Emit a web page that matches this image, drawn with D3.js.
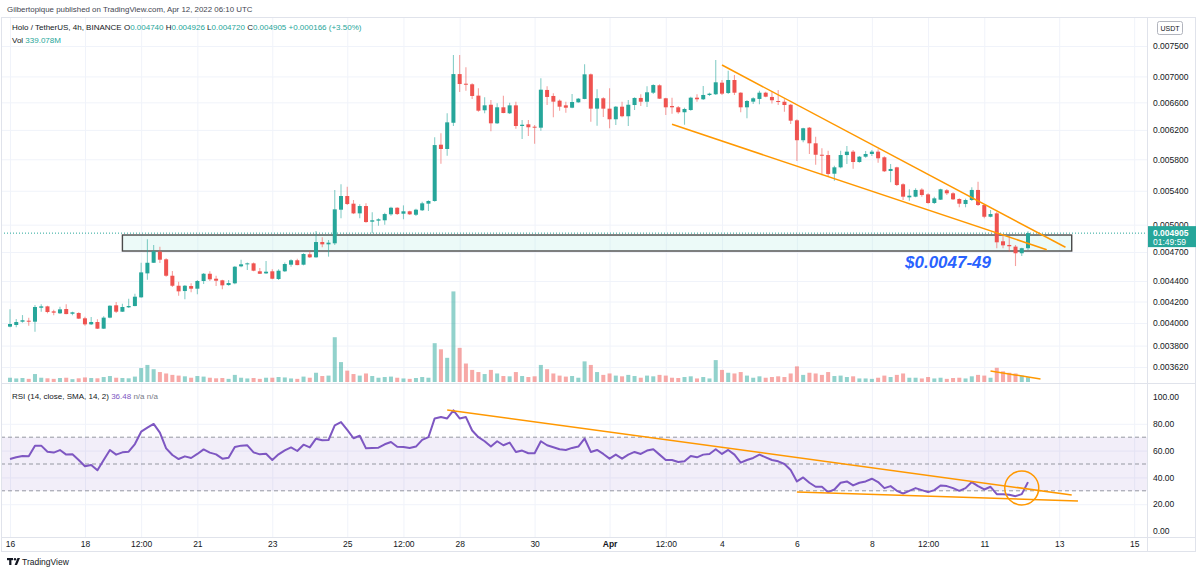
<!DOCTYPE html>
<html>
<head>
<meta charset="utf-8">
<script src="https://cdn.jsdelivr.net/npm/d3@7"></script>
<style>
  body { margin: 0; background: #fff; }
  svg { display: block; }
  text { font-family: "Liberation Sans", Arial, sans-serif; }
</style>
</head>
<body>
<svg id="chart" width="1200" height="574"></svg>
<script>
// HOT/USDT 4h candles, Mar 16 00:00 -> Apr 12 04:00 (UTC)
var opens = [
  0.003967,0.003982,0.004012,0.004021,0.004012,0.004141,0.004154,0.004107,0.004089,0.004129,
  0.004085,0.004092,0.004043,0.003988,0.004009,0.003949,0.004049,0.004164,0.004104,0.004145,
  0.004157,0.004240,0.004477,0.004586,0.004703,0.004622,0.004453,0.004353,0.004301,0.004350,
  0.004324,0.004400,0.004473,0.004423,0.004407,0.004360,0.004377,0.004549,0.004570,0.004580,
  0.004498,0.004477,0.004498,0.004420,0.004498,0.004566,0.004612,0.004566,0.004675,0.004643,
  0.004807,0.004782,0.004793,0.005173,0.005336,0.005244,0.005130,0.005216,0.005034,0.005046,
  0.005050,0.005119,0.005196,0.005126,0.005154,0.005114,0.005166,0.005244,0.005276,0.005995,
  0.005937,0.006301,0.007037,0.006885,0.006876,0.006701,0.006482,0.006564,0.006293,0.006526,
  0.006438,0.006555,0.006255,0.006279,0.006245,0.006231,0.006788,0.006696,0.006625,0.006555,
  0.006520,0.006600,0.006651,0.007033,0.006506,0.006661,0.006506,0.006351,0.006535,0.006395,
  0.006560,0.006666,0.006609,0.006746,0.006860,0.006661,0.006545,0.006526,0.006453,0.006486,
  0.006670,0.006646,0.006711,0.006722,0.006901,0.006741,0.006943,0.006746,0.006526,0.006610,
  0.006651,0.006746,0.006681,0.006620,0.006609,0.006564,0.006336,0.006056,0.006231,0.006014,
  0.005860,0.005856,0.005613,0.005695,0.005856,0.005901,0.005764,0.005834,0.005870,0.005901,
  0.005826,0.005648,0.005695,0.005480,0.005320,0.005328,0.005414,0.005356,0.005252,0.005292,
  0.005406,0.005369,0.005300,0.005240,0.005288,0.005410,0.005228,0.005091,0.005130,0.004815,
  0.004775,0.004757,0.004686,0.004740
];
var highs = [
  0.004126,0.004037,0.004073,0.004049,0.004166,0.004173,0.004160,0.004122,0.004151,0.004173,
  0.004104,0.004098,0.004058,0.004055,0.004034,0.004061,0.004164,0.004195,0.004179,0.004227,
  0.004275,0.004586,0.004837,0.004775,0.004757,0.004633,0.004501,0.004393,0.004360,0.004377,
  0.004410,0.004480,0.004498,0.004453,0.004413,0.004410,0.004552,0.004618,0.004590,0.004590,
  0.004532,0.004604,0.004518,0.004518,0.004590,0.004622,0.004629,0.004686,0.004714,0.004929,
  0.004859,0.004829,0.005410,0.005480,0.005450,0.005288,0.005236,0.005248,0.005142,0.005073,
  0.005137,0.005208,0.005201,0.005224,0.005161,0.005184,0.005268,0.005284,0.006097,0.006152,
  0.006438,0.007349,0.007349,0.007146,0.006891,0.006814,0.006676,0.006636,0.006586,0.006701,
  0.006594,0.006609,0.006341,0.006341,0.006269,0.006970,0.006844,0.006737,0.006641,0.006609,
  0.006726,0.006666,0.007194,0.007048,0.006798,0.006676,0.006814,0.006545,0.006609,0.006636,
  0.006676,0.006722,0.006844,0.006875,0.006875,0.006670,0.006670,0.006545,0.006520,0.006685,
  0.006722,0.006849,0.006746,0.007267,0.006943,0.007091,0.007022,0.006752,0.006636,0.006676,
  0.006777,0.006762,0.006772,0.006788,0.006646,0.006574,0.006351,0.006231,0.006241,0.006105,
  0.005946,0.005914,0.005716,0.005914,0.005977,0.005924,0.005843,0.005910,0.005924,0.005933,
  0.005839,0.005738,0.005703,0.005492,0.005418,0.005431,0.005431,0.005369,0.005328,0.005426,
  0.005422,0.005381,0.005308,0.005304,0.005443,0.005512,0.005240,0.005169,0.005149,0.004891,
  0.004873,0.004775,0.004746,0.004926
];
var lows = [
  0.003962,0.003961,0.004003,0.003976,0.003922,0.004104,0.004089,0.004071,0.004082,0.004080,
  0.004071,0.004037,0.003976,0.003982,0.003947,0.003946,0.004043,0.004092,0.004101,0.004138,
  0.004154,0.004237,0.004413,0.004583,0.004583,0.004443,0.004340,0.004256,0.004221,0.004289,
  0.004269,0.004370,0.004400,0.004350,0.004318,0.004353,0.004367,0.004539,0.004511,0.004498,
  0.004470,0.004470,0.004417,0.004410,0.004491,0.004545,0.004559,0.004559,0.004636,0.004639,
  0.004750,0.004650,0.004775,0.005073,0.005228,0.005122,0.005073,0.005022,0.004903,0.004988,
  0.005000,0.005102,0.005110,0.005062,0.005110,0.005099,0.005157,0.005157,0.005268,0.005741,
  0.005847,0.006255,0.006756,0.006777,0.006651,0.006462,0.006438,0.006180,0.006283,0.006438,
  0.006428,0.006217,0.006074,0.006115,0.006009,0.006189,0.006560,0.006380,0.006476,0.006447,
  0.006511,0.006594,0.006646,0.006316,0.006259,0.006385,0.006223,0.006269,0.006380,0.006255,
  0.006486,0.006545,0.006530,0.006726,0.006651,0.006413,0.006432,0.006432,0.006273,0.006476,
  0.006610,0.006636,0.006696,0.006711,0.006711,0.006726,0.006711,0.006453,0.006366,0.006574,
  0.006570,0.006676,0.006584,0.006560,0.006462,0.006283,0.005777,0.006028,0.005869,0.005729,
  0.005593,0.005575,0.005524,0.005683,0.005738,0.005678,0.005755,0.005821,0.005843,0.005755,
  0.005635,0.005505,0.005459,0.005288,0.005280,0.005320,0.005328,0.005244,0.005240,0.005288,
  0.005348,0.005288,0.005201,0.005201,0.005276,0.005216,0.005073,0.005084,0.004739,0.004739,
  0.004703,0.004552,0.004657,0.004720
];
var closes = [
  0.003991,0.004009,0.004025,0.004012,0.004148,0.004154,0.004101,0.004095,0.004126,0.004082,
  0.004098,0.004040,0.003988,0.004009,0.003949,0.004049,0.004160,0.004104,0.004148,0.004157,
  0.004246,0.004487,0.004586,0.004707,0.004618,0.004453,0.004353,0.004298,0.004353,0.004324,
  0.004400,0.004473,0.004417,0.004403,0.004357,0.004380,0.004545,0.004570,0.004580,0.004504,
  0.004473,0.004494,0.004423,0.004504,0.004573,0.004612,0.004562,0.004678,0.004643,0.004807,
  0.004782,0.004800,0.005177,0.005336,0.005240,0.005130,0.005216,0.005030,0.005050,0.005061,
  0.005122,0.005196,0.005122,0.005154,0.005119,0.005173,0.005248,0.005276,0.005990,0.005937,
  0.006307,0.007037,0.006880,0.006869,0.006696,0.006476,0.006555,0.006293,0.006526,0.006442,
  0.006555,0.006255,0.006273,0.006237,0.006231,0.006792,0.006681,0.006610,0.006535,0.006520,
  0.006605,0.006655,0.007033,0.006506,0.006661,0.006506,0.006351,0.006535,0.006395,0.006564,
  0.006666,0.006609,0.006752,0.006864,0.006655,0.006526,0.006526,0.006453,0.006501,0.006670,
  0.006646,0.006711,0.006731,0.006907,0.006731,0.006943,0.006746,0.006526,0.006620,0.006661,
  0.006746,0.006685,0.006631,0.006609,0.006560,0.006331,0.006056,0.006223,0.006014,0.005860,
  0.005847,0.005610,0.005695,0.005856,0.005901,0.005764,0.005834,0.005870,0.005901,0.005813,
  0.005644,0.005674,0.005471,0.005328,0.005340,0.005410,0.005348,0.005252,0.005308,0.005418,
  0.005369,0.005296,0.005244,0.005288,0.005410,0.005228,0.005091,0.005122,0.004804,0.004771,
  0.004761,0.004686,0.004740,0.004905
];
// volume in millions of HOT
var volumes = [
  300,250,280,220,560,300,260,220,280,300,
  200,260,320,280,260,350,420,300,280,260,
  380,980,1200,900,700,600,500,450,400,300,
  420,380,300,260,280,220,500,300,250,280,
  220,300,300,350,320,250,220,380,300,650,
  420,450,3150,1400,800,560,450,600,420,300,
  350,380,300,250,220,280,350,300,2730,2300,
  1700,6370,2400,1300,850,700,560,850,600,420,
  400,700,420,350,400,1200,900,600,450,380,
  420,300,1450,1200,700,500,600,450,400,500,
  420,300,450,400,500,450,300,280,350,400,
  250,350,250,1540,850,650,600,700,450,300,
  400,300,350,400,350,600,1100,500,650,600,
  500,700,420,450,350,400,250,250,220,300,
  450,350,500,600,300,300,250,350,250,300,
  220,280,300,250,400,500,450,300,1000,750,
  650,600,450,339.078
];
// RSI(14) line as drawn
var rsi = [
  53.7,55.0,56.0,55.7,63.7,63.7,59.2,58.5,60.4,57.0,
  57.2,53.0,48.3,49.3,45.3,53.0,60.4,57.0,58.7,59.2,
  64.9,74.1,77.1,79.9,73.4,61.7,56.7,53.7,55.7,54.5,
  57.5,60.9,58.5,57.2,54.0,54.7,62.7,63.7,63.9,58.7,
  57.2,57.7,53.0,57.2,60.2,62.4,59.7,64.4,62.4,68.9,
  67.7,67.9,78.9,81.3,75.4,69.2,71.1,61.7,61.9,62.2,
  64.7,66.4,62.9,62.7,62.0,63.0,68.0,70.0,84.0,85.0,
  84.0,90.0,84.0,85.0,75.0,70.0,67.0,63.0,67.0,64.0,
  66.0,59.0,60.0,58.0,58.0,67.0,64.0,62.5,61.0,60.5,
  62.0,63.0,69.0,59.0,60.5,57.5,54.0,57.0,54.0,57.0,
  59.0,57.5,60.0,61.0,57.0,53.0,53.0,51.5,52.0,56.0,
  55.0,57.0,57.5,61.0,57.5,60.5,57.0,51.0,53.0,54.5,
  57.0,55.0,53.0,52.0,50.0,45.5,37.0,40.0,36.0,33.0,
  33.0,29.0,31.0,36.0,37.0,34.0,36.0,37.0,39.0,36.5,
  32.0,33.5,30.0,28.0,30.0,32.0,30.5,29.0,30.5,34.0,
  33.5,32.0,30.0,32.0,36.5,33.5,31.0,33.0,27.5,27.5,
  27.0,26.0,27.5,36.48
];

var priceTicks = [0.0075, 0.007, 0.0066, 0.0062, 0.0058, 0.0054, 0.005, 0.0047, 0.0044, 0.0042, 0.004, 0.0038, 0.00362];
var rsiTicks = [100, 80, 60, 40, 20, 0];
var timeTicks = [
  Date.UTC(2022,2,16), Date.UTC(2022,2,18), Date.UTC(2022,2,19,12), Date.UTC(2022,2,21),
  Date.UTC(2022,2,23), Date.UTC(2022,2,25), Date.UTC(2022,2,26,12), Date.UTC(2022,2,28),
  Date.UTC(2022,2,30), Date.UTC(2022,3,1), Date.UTC(2022,3,2,12), Date.UTC(2022,3,4),
  Date.UTC(2022,3,6), Date.UTC(2022,3,8), Date.UTC(2022,3,9,12), Date.UTC(2022,3,11),
  Date.UTC(2022,3,13), Date.UTC(2022,3,15)
];
var timeLabels = ["16","18","12:00","21","23","25","12:00","28","30","Apr","12:00","4","6","8","12:00","11","13","15"];

// drawings on the chart: [time, price] / [time, volume] / [time, rsi]
var zoneTimes = [Date.UTC(2022,2,19,0), Date.UTC(2022,3,13,8)];
var zonePrices = [0.004884, 0.004710];
var upperTrend = [[Date.UTC(2022,3,4,0), 0.007183], [Date.UTC(2022,3,13,4), 0.004750]];
var lowerTrend = [[Date.UTC(2022,3,2,16), 0.006279], [Date.UTC(2022,3,12,16), 0.004724]];
var volTrend = [[Date.UTC(2022,3,11,4), 770], [Date.UTC(2022,3,12,12), 210]];
var rsiUpper = [[Date.UTC(2022,2,27,16), 90.3], [Date.UTC(2022,3,13,8), 26.9]];
var rsiLower = [[Date.UTC(2022,3,6,0), 29.1], [Date.UTC(2022,3,13,12), 22.4]];
var rsiCircle = [Date.UTC(2022,3,12,0), 32.1];
var lastPrice = 0.004905;

var up = '#26a69a', down = '#ef5350', orange = '#ff9800', purple = '#7e57c2';
var H4 = 4 * 3600 * 1000;
var t0 = Date.UTC(2022, 2, 16, 0);
var n = closes.length;
var times = d3.range(n).map(function(i){ return new Date(t0 + i * H4); });

var paneL = 1, paneR = 1147, axisR = 1196;
var priceTop = 17, priceBot = 383, rsiBot = 537, timeBot = 552;

var svg = d3.select('#chart');

var x = d3.scaleUtc().domain([times[0], times[n - 1]]).range([10, 1028]);
var y = d3.scaleLog().domain([0.0075, 0.00362]).range([46, 367]);
var yVol = d3.scaleLinear().domain([0, 6400]).range([382, 291]);
var yRsi = d3.scaleLinear().domain([0, 100]).range([531, 397]);

var defs = svg.append('defs');
defs.append('clipPath').attr('id', 'clipPrice').append('rect')
  .attr('x', paneL).attr('y', priceTop).attr('width', paneR - paneL).attr('height', priceBot - priceTop);
defs.append('clipPath').attr('id', 'clipRsi').append('rect')
  .attr('x', paneL).attr('y', priceBot).attr('width', paneR - paneL).attr('height', rsiBot - priceBot);

// header
svg.append('text').attr('x', 7).attr('y', 12).attr('font-size', 7.9).attr('fill', '#434651')
  .text('Gilbertopique published on TradingView.com, Apr 12, 2022 06:10 UTC');

// grid
var gridCol = '#f0f3fa';
svg.append('g').attr('transform', 'translate(0,' + rsiBot + ')')
  .call(d3.axisBottom(x).tickValues(timeTicks.map(function(t){ return new Date(t); }))
    .tickSize(-(rsiBot - priceTop)).tickFormat(''))
  .call(function(g){ g.select('.domain').remove(); g.selectAll('line').attr('stroke', gridCol); });
svg.append('g').attr('transform', 'translate(' + paneR + ',0)')
  .call(d3.axisLeft(y).tickValues(priceTicks).tickSize(paneR - paneL).tickFormat(''))
  .call(function(g){ g.select('.domain').remove(); g.selectAll('line').attr('stroke', gridCol); });
svg.append('g').attr('transform', 'translate(' + paneR + ',0)')
  .call(d3.axisLeft(yRsi).tickValues([80, 60, 40, 20]).tickSize(paneR - paneL).tickFormat(''))
  .call(function(g){ g.select('.domain').remove(); g.selectAll('line').attr('stroke', gridCol); });

// price pane
var gp = svg.append('g').attr('clip-path', 'url(#clipPrice)');

gp.selectAll('rect.vol').data(d3.range(n)).enter().append('rect')
  .attr('class', 'vol')
  .attr('x', function(i){ return x(times[i]) - 2; })
  .attr('width', 4)
  .attr('y', function(i){ return yVol(volumes[i]); })
  .attr('height', function(i){ return yVol(0) - yVol(volumes[i]); })
  .attr('fill', function(i){ return closes[i] >= opens[i] ? up : down; })
  .attr('fill-opacity', 0.5);

gp.append('rect')
  .attr('x', x(new Date(zoneTimes[0]))).attr('y', y(zonePrices[0]))
  .attr('width', x(new Date(zoneTimes[1])) - x(new Date(zoneTimes[0])))
  .attr('height', y(zonePrices[1]) - y(zonePrices[0]))
  .attr('fill', '#b2ebe3').attr('fill-opacity', 0.25)
  .attr('stroke', '#4a4a4a').attr('stroke-width', 1.4);

gp.append('line')
  .attr('x1', paneL).attr('x2', paneR).attr('y1', y(lastPrice)).attr('y2', y(lastPrice))
  .attr('stroke', up).attr('stroke-width', 1).attr('stroke-dasharray', '1,2');

gp.selectAll('line.wick').data(d3.range(n)).enter().append('line')
  .attr('class', 'wick')
  .attr('x1', function(i){ return x(times[i]); })
  .attr('x2', function(i){ return x(times[i]); })
  .attr('y1', function(i){ return y(highs[i]); })
  .attr('y2', function(i){ return y(lows[i]); })
  .attr('stroke', function(i){ return closes[i] >= opens[i] ? up : down; })
  .attr('stroke-opacity', 0.55).attr('stroke-width', 1.1);

gp.selectAll('rect.body').data(d3.range(n)).enter().append('rect')
  .attr('class', 'body')
  .attr('x', function(i){ return x(times[i]) - 2; })
  .attr('width', 4)
  .attr('y', function(i){ return y(Math.max(opens[i], closes[i])); })
  .attr('height', function(i){ return Math.max(1, y(Math.min(opens[i], closes[i])) - y(Math.max(opens[i], closes[i]))); })
  .attr('fill', function(i){ return closes[i] >= opens[i] ? up : down; });

var priceLine = d3.line().x(function(d){ return x(new Date(d[0])); }).y(function(d){ return y(d[1]); });
var volLine = d3.line().x(function(d){ return x(new Date(d[0])); }).y(function(d){ return yVol(d[1]); });
[upperTrend, lowerTrend].forEach(function(seg){
  gp.append('path').attr('d', priceLine(seg)).attr('stroke', orange).attr('stroke-width', 1.5).attr('fill', 'none');
});
gp.append('path').attr('d', volLine(volTrend)).attr('stroke', orange).attr('stroke-width', 1.5).attr('fill', 'none');

gp.append('text').attr('x', 905).attr('y', 268)
  .attr('font-size', 17).attr('font-weight', 'bold').attr('font-style', 'italic')
  .attr('fill', '#2962ff').text('$0.0047-49');

// legend
var leg = svg.append('text').attr('x', 12).attr('y', 30).attr('font-size', 8).attr('fill', '#131722');
leg.append('tspan').text('Holo / TetherUS, 4h, BINANCE  O');
leg.append('tspan').attr('fill', up).text('0.004740');
leg.append('tspan').text('  H');
leg.append('tspan').attr('fill', up).text('0.004926');
leg.append('tspan').text('  L');
leg.append('tspan').attr('fill', up).text('0.004720');
leg.append('tspan').text('  C');
leg.append('tspan').attr('fill', up).text('0.004905  +0.000166 (+3.50%)');
var vleg = svg.append('text').attr('x', 12).attr('y', 43).attr('font-size', 8).attr('fill', '#131722');
vleg.append('tspan').text('Vol  ');
vleg.append('tspan').attr('fill', up).text('339.078M');

// RSI pane
var gr = svg.append('g').attr('clip-path', 'url(#clipRsi)');
gr.append('rect').attr('x', paneL).attr('width', paneR - paneL)
  .attr('y', yRsi(70)).attr('height', yRsi(30) - yRsi(70))
  .attr('fill', purple).attr('fill-opacity', 0.1);
[70, 50, 30].forEach(function(v){
  gr.append('line').attr('x1', paneL).attr('x2', paneR).attr('y1', yRsi(v)).attr('y2', yRsi(v))
    .attr('stroke', '#9598a1').attr('stroke-width', 1).attr('stroke-dasharray', '4,3');
});
gr.append('path')
  .attr('d', d3.line().x(function(i){ return x(times[i]); }).y(function(i){ return yRsi(rsi[i]); })(d3.range(n)))
  .attr('stroke', purple).attr('stroke-width', 2).attr('fill', 'none').attr('stroke-linejoin', 'round');
var rsiLineGen = d3.line().x(function(d){ return x(new Date(d[0])); }).y(function(d){ return yRsi(d[1]); });
[rsiUpper, rsiLower].forEach(function(seg){
  gr.append('path').attr('d', rsiLineGen(seg)).attr('stroke', orange).attr('stroke-width', 1.5).attr('fill', 'none');
});
gr.append('circle').attr('cx', x(new Date(rsiCircle[0]))).attr('cy', yRsi(rsiCircle[1])).attr('r', 17)
  .attr('stroke', orange).attr('stroke-width', 1.5).attr('fill', 'none');

var rleg = svg.append('text').attr('x', 12).attr('y', 399).attr('font-size', 8).attr('fill', '#131722');
rleg.append('tspan').text('RSI (14, close, SMA, 14, 2)  ');
rleg.append('tspan').attr('fill', purple).text('36.48');
rleg.append('tspan').attr('fill', '#787b86').text('  n/a  n/a');

// frame
var frameCol = '#e0e3eb';
svg.append('rect').attr('x', paneL + 0.5).attr('y', priceTop + 0.5)
  .attr('width', axisR - paneL - 1).attr('height', timeBot - priceTop - 1)
  .attr('fill', 'none').attr('stroke', frameCol);
svg.append('line').attr('x1', paneR + 0.5).attr('x2', paneR + 0.5).attr('y1', priceTop).attr('y2', timeBot).attr('stroke', frameCol);
[priceBot, rsiBot].forEach(function(yy){
  svg.append('line').attr('x1', paneL).attr('x2', axisR).attr('y1', yy + 0.5).attr('y2', yy + 0.5).attr('stroke', frameCol);
});

// axes
function styleAxis(g){
  g.select('.domain').remove();
  g.selectAll('line').remove();
  g.selectAll('text').attr('fill', '#131722').attr('font-size', 8.5).attr('font-family', '"Liberation Sans", Arial, sans-serif');
}
svg.append('g').attr('transform', 'translate(1150,0)')
  .call(d3.axisRight(y).tickValues(priceTicks).tickSize(0).tickPadding(3).tickFormat(d3.format('.6f')))
  .call(styleAxis);
svg.append('g').attr('transform', 'translate(1150,0)')
  .call(d3.axisRight(yRsi).tickValues(rsiTicks).tickSize(0).tickPadding(3).tickFormat(d3.format('.2f')))
  .call(styleAxis);
svg.append('g').attr('transform', 'translate(0,' + (rsiBot + 1) + ')')
  .call(d3.axisBottom(x).tickValues(timeTicks.map(function(t){ return new Date(t); })).tickSize(0).tickPadding(3)
    .tickFormat(function(d, i){ return timeLabels[i]; }))
  .call(styleAxis)
  .call(function(g){ g.selectAll('text').filter(function(d, i){ return timeLabels[i] === 'Apr'; }).attr('font-weight', 'bold'); });

// USDT unit box
svg.append('rect').attr('x', 1157.5).attr('y', 21.5).attr('width', 25).attr('height', 13).attr('rx', 2)
  .attr('fill', '#fff').attr('stroke', '#b2b5be');
svg.append('text').attr('x', 1170).attr('y', 30.5).attr('text-anchor', 'middle').attr('font-size', 7).attr('fill', '#131722').text('USDT');

// last price badge
var yl = y(lastPrice);
svg.append('rect').attr('x', paneR + 1).attr('y', yl - 7).attr('width', axisR - paneR - 1).attr('height', 21).attr('fill', up);
svg.append('text').attr('x', 1153).attr('y', yl + 3).attr('font-size', 8.5).attr('font-weight', 'bold').attr('fill', '#fff').text('0.004905');
svg.append('text').attr('x', 1153).attr('y', yl + 12).attr('font-size', 8.5).attr('fill', '#fff').text('01:49:59');

// TradingView mark
var logo = svg.append('g').attr('transform', 'translate(7,558)').attr('fill', '#131722');
logo.append('rect').attr('x', 0).attr('y', 0).attr('width', 6).attr('height', 2.2);
logo.append('rect').attr('x', 2.2).attr('y', 0).attr('width', 2.2).attr('height', 7);
logo.append('circle').attr('cx', 8).attr('cy', 1.2).attr('r', 1.2);
logo.append('path').attr('d', 'M10.5,0 L13,0 L10,7 L7.6,7 Z');
svg.append('text').attr('x', 22).attr('y', 565).attr('font-size', 8.5).attr('fill', '#131722').text('TradingView');
</script>
</body>
</html>
